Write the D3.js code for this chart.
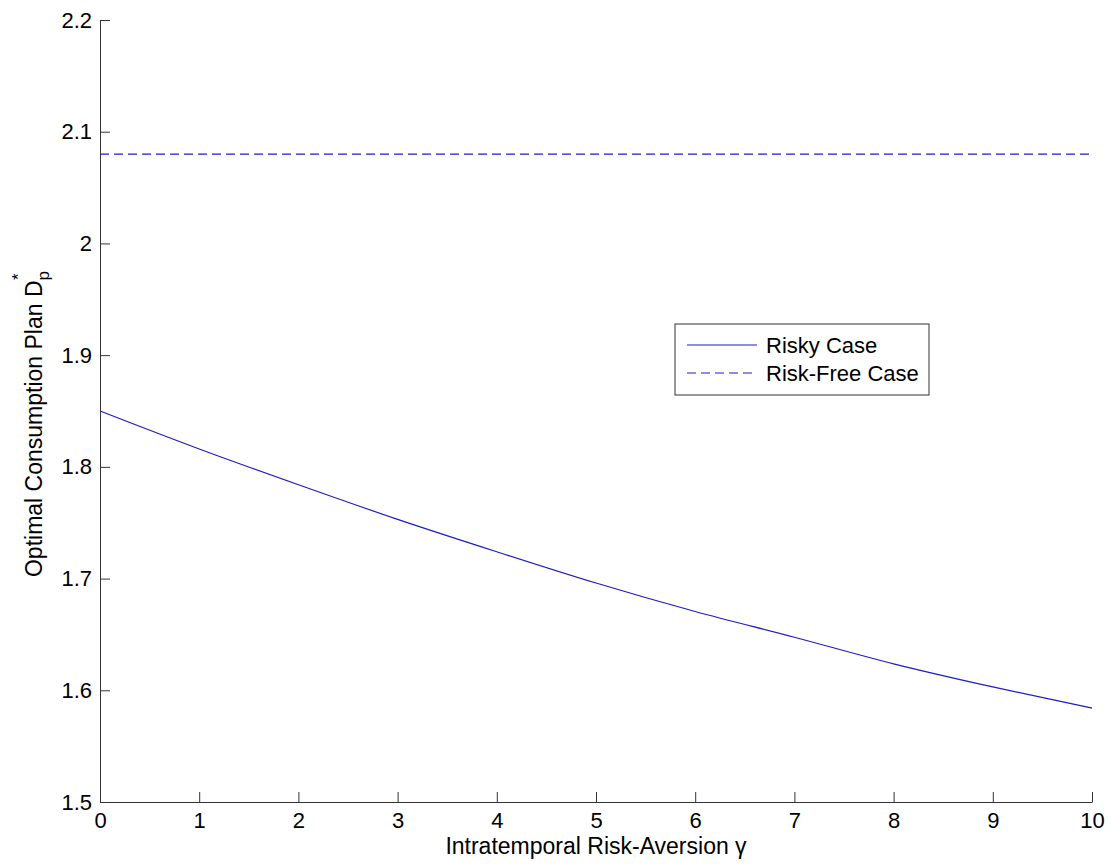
<!DOCTYPE html>
<html>
<head>
<meta charset="utf-8">
<script src="https://cdn.jsdelivr.net/npm/d3@7"></script>
<style>
  body { margin: 0; background: #fff; }
  svg { display: block; font-family: "Liberation Sans", Arial, sans-serif; }
</style>
</head>
<body>
<div id="chart"></div>
<script>
// data
const gamma = [0, 1, 2, 3, 4, 5, 6, 7, 8, 9, 10];
const risky = [1.850, 1.816, 1.784, 1.753, 1.724, 1.696, 1.6705, 1.6475, 1.6237, 1.603, 1.584];
const riskFree = 2.08;
const xTicks = [0, 1, 2, 3, 4, 5, 6, 7, 8, 9, 10];
const yTicks = [1.5, 1.6, 1.7, 1.8, 1.9, 2, 2.1, 2.2];
const legendLabels = ["Risky Case", "Risk-Free Case"];

const width = 1112, height = 867;
const margin = {top: 20, right: 20, bottom: 65, left: 100};
const lineColor = "#1c1cc8";
const axisColor = "#333";
const fs = 22;

const svg = d3.select("#chart").append("svg")
	.attr("width", width)
	.attr("height", height);

const x = d3.scaleLinear()
	.domain([0, 10])
	.range([margin.left, width - margin.right]);

const y = d3.scaleLinear()
	.domain([1.5, 2.2])
	.range([height - margin.bottom, margin.top]);

// axes, ticks pointing inwards like matlab
const xAxis = d3.axisBottom(x)
	.tickValues(xTicks)
	.tickFormat(d3.format(""))
	.tickSizeInner(-10)
	.tickSizeOuter(0)
	.tickPadding(10);

const yAxis = d3.axisLeft(y)
	.tickValues(yTicks)
	.tickFormat(d => String(+d.toFixed(1)))
	.tickSizeInner(-10)
	.tickSizeOuter(0)
	.tickPadding(8);

svg.append("g")
	.attr("transform", `translate(0,${height - margin.bottom})`)
	.call(xAxis)
	.call(g => g.selectAll("text").attr("font-size", fs).attr("fill", "#000").attr("font-family", null))
	.call(g => g.selectAll("line, path").attr("stroke", axisColor));

svg.append("g")
	.attr("transform", `translate(${margin.left},0)`)
	.call(yAxis)
	.call(g => g.selectAll("text").attr("font-size", fs).attr("fill", "#000").attr("font-family", null))
	.call(g => g.selectAll("line, path").attr("stroke", axisColor));

// risky curve
const line = d3.line()
	.x((d, i) => x(gamma[i]))
	.y(d => y(d))
	.curve(d3.curveMonotoneX);

svg.append("path")
	.datum(risky)
	.attr("fill", "none")
	.attr("stroke", lineColor)
	.attr("stroke-width", 1.2)
	.attr("d", line);

// risk-free constant
svg.append("line")
	.attr("x1", x(0))
	.attr("x2", x(10))
	.attr("y1", y(riskFree))
	.attr("y2", y(riskFree))
	.attr("stroke", lineColor)
	.attr("stroke-width", 1.2)
	.attr("stroke-dasharray", "9,5");

// axis labels
svg.append("text")
	.attr("x", (x(0) + x(10)) / 2)
	.attr("y", 854)
	.attr("text-anchor", "middle")
	.attr("font-size", 23)
	.text("Intratemporal Risk-Aversion γ");

const yl = svg.append("text")
	.attr("transform", "translate(42,424) rotate(-90)")
	.attr("text-anchor", "middle")
	.attr("font-size", 23);
yl.append("tspan").text("Optimal Consumption Plan D");
yl.append("tspan").attr("font-size", 17).attr("dy", 7).text("p");
yl.append("tspan").attr("font-size", 17).attr("dx", -9).attr("dy", -25).text("*");

// legend
const legend = svg.append("g").attr("transform", "translate(675,324)");
legend.append("rect")
	.attr("width", 254)
	.attr("height", 71)
	.attr("fill", "#fff")
	.attr("stroke", axisColor);

const rows = legend.selectAll("g.row")
	.data(legendLabels)
	.join("g")
	.attr("class", "row")
	.attr("transform", (d, i) => `translate(0,${21 + i * 28})`);

rows.append("line")
	.attr("x1", 12)
	.attr("x2", 82)
	.attr("stroke", lineColor)
	.attr("stroke-width", 1.2)
	.attr("stroke-dasharray", (d, i) => i ? "9,5" : null);

rows.append("text")
	.attr("x", 91)
	.attr("dy", "0.35em")
	.attr("font-size", fs)
	.text(d => d);
</script>
</body>
</html>
